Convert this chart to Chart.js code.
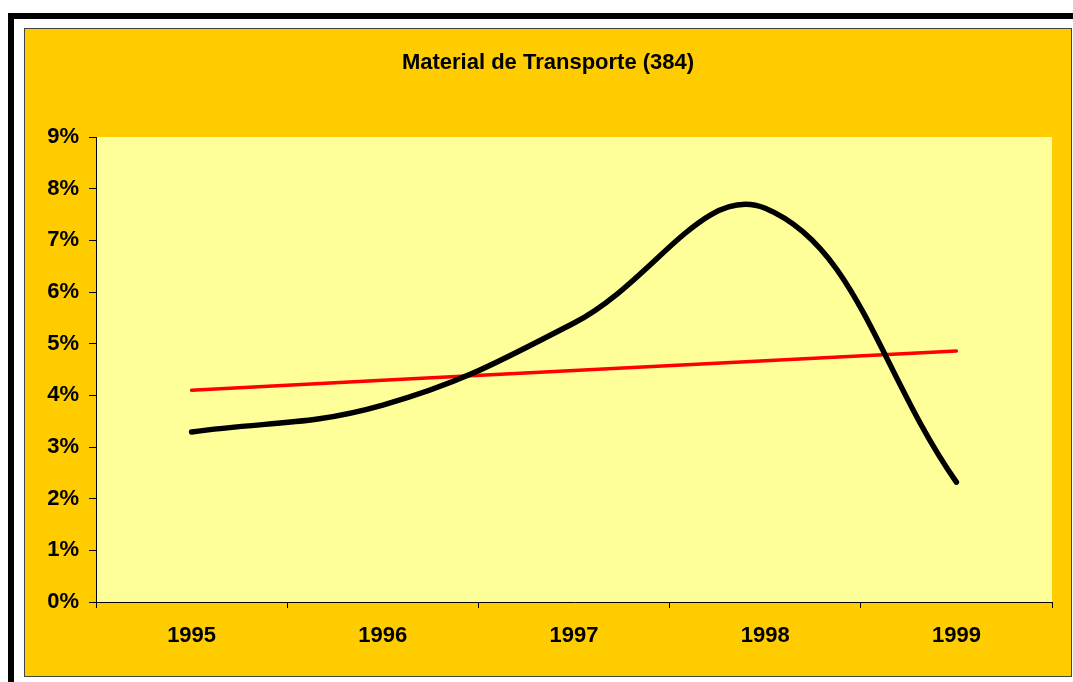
<!DOCTYPE html>
<html>
<head>
<meta charset="utf-8">
<script src="https://cdn.jsdelivr.net/npm/chart.js@4/dist/chart.umd.min.js"></script>
<style>
  html, body { margin: 0; padding: 0; background: #fff; overflow: hidden; }
  body { width: 1073px; height: 682px; position: relative; }
  #frame { position: absolute; left: 8px; top: 13px; width: 1100px; height: 700px;
           border-top: 6px solid #000; border-left: 6px solid #000; }
  #panel { position: absolute; left: 24px; top: 28px; width: 1046px; height: 647px;
           border: 1px solid #444; background: #FFCC00; }
  #c { display: block; }
</style>
</head>
<body>
<div id="frame"></div>
<div id="panel"><canvas id="c" width="1046" height="647"></canvas></div>
<script>
const chartTitle = 'Material de Transporte (384)';
const categories = ['1995', '1996', '1997', '1998', '1999'];
const seriesValues = [3.29, 3.81, 5.40, 7.62, 2.32];
const trendValues = [4.10, 4.29, 4.48, 4.67, 4.86];
const yTickLabels = ['0%', '1%', '2%', '3%', '4%', '5%', '6%', '7%', '8%', '9%'];

const plotBg = {
  id: 'plotBg',
  beforeDraw(chart) {
    const a = chart.chartArea, ctx = chart.ctx;
    ctx.save();
    ctx.fillStyle = '#FFFF99';
    ctx.fillRect(a.left, a.top, a.right - a.left, a.bottom - a.top);
    ctx.restore();
  }
};

const font = { family: '"Liberation Sans", Arial, sans-serif', size: 22, weight: 'bold' };

new Chart(document.getElementById('c'), {
  type: 'line',
  data: {
    labels: categories,
    datasets: [
      { data: seriesValues, borderColor: '#000', borderWidth: 5.5, tension: 0.4,
        pointRadius: 0, borderCapStyle: 'round', borderJoinStyle: 'round', fill: false },
      { data: trendValues, borderColor: '#FF0000', borderWidth: 3.5, tension: 0,
        pointRadius: 0, borderCapStyle: 'round', fill: false }
    ]
  },
  options: {
    responsive: false,
    animation: false,
    devicePixelRatio: 1,
    layout: { padding: 0 },
    plugins: {
      legend: { display: false },
      tooltip: { enabled: false },
      title: { display: true, text: chartTitle, color: '#000', font: font,
               padding: { top: 21, bottom: 60.6 } }
    },
    scales: {
      x: {
        offset: true,
        grid: { offset: true, drawOnChartArea: false, tickLength: 6, color: '#000', lineWidth: 1 },
        border: { color: '#000', width: 1 },
        ticks: { color: '#000', font: font, padding: 15, maxRotation: 0 },
        afterFit(s) { s.height = 74; }
      },
      y: {
        min: 0, max: 9,
        grid: { drawOnChartArea: false, tickLength: 7, color: '#000', lineWidth: 1 },
        border: { color: '#000', width: 1 },
        ticks: { stepSize: 1, color: '#000', font: font, padding: 10,
                 callback: (v) => yTickLabels[Math.round(v)] },
        afterFit(s) { s.width = 71; }
      },
      ySpacer: {
        position: 'right', min: 0, max: 9,
        grid: { display: false },
        border: { display: false },
        ticks: { display: false },
        afterFit(s) { s.width = 19; }
      }
    }
  },
  plugins: [plotBg]
});
</script>
</body>
</html>
